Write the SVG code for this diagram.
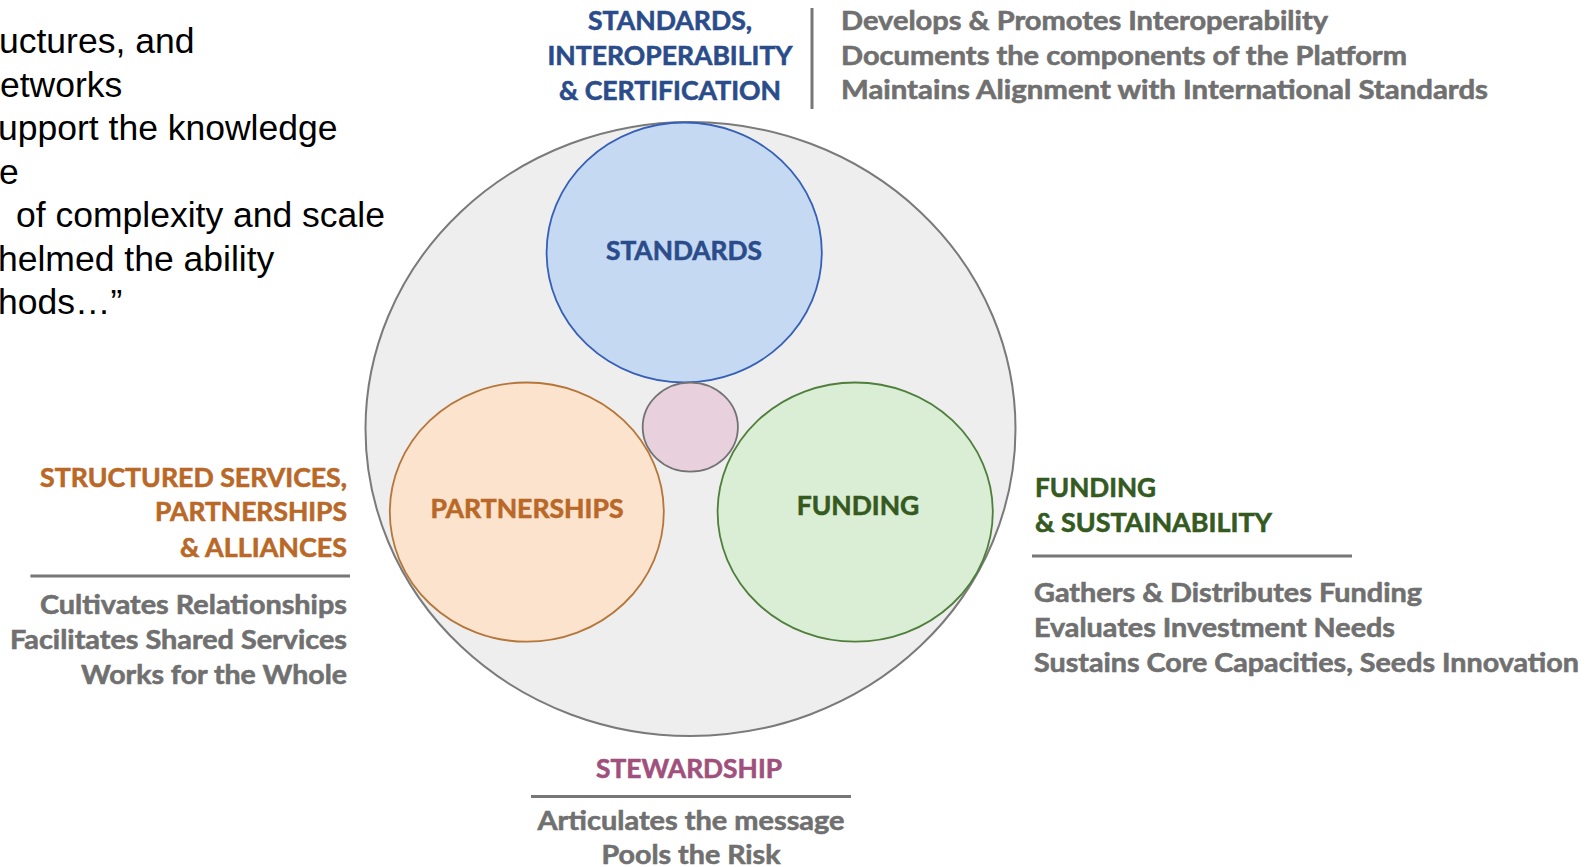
<svg xmlns="http://www.w3.org/2000/svg" width="1587" height="867" viewBox="0 0 1587 867">
<style>
.q{font-family:"Liberation Sans",Arial,sans-serif;font-size:35.5px;fill:#000}
.t{font-family:Lato,"Open Sans",sans-serif;font-weight:bold;font-size:27px;stroke-width:0.6px}
.blue{fill:#2B4C8A;stroke:#2B4C8A}
.org{fill:#B96827;stroke:#B96827}
.grn{fill:#345A1F;stroke:#345A1F}
.mag{fill:#A0507C;stroke:#A0507C}
.gry{fill:#707070;stroke:#707070}
.rule{stroke:#777;stroke-width:3;fill:none}
.mid{text-anchor:middle}
.end{text-anchor:end}
</style>
<rect width="1587" height="867" fill="#fff"/>
<g id="quote">
<text class="q" x="-1" y="53">uctures, and</text>
<text class="q" x="0" y="96.5">etworks</text>
<text class="q" x="-2" y="140">upport the knowledge</text>
<text class="q" x="-1" y="183.5">e</text>
<text class="q" x="16" y="227">of complexity and scale</text>
<text class="q" x="-2" y="270.5">helmed the ability</text>
<text class="q" x="-2" y="314">hods…”</text>
</g>
<g id="outer">
<ellipse cx="690.5" cy="429" rx="325" ry="307" fill="#EEEEEF" stroke="#7A7A7A" stroke-width="2"/>
</g>
<g id="standards">
<ellipse cx="684.2" cy="252.5" rx="137.6" ry="130" fill="#C6D9F3" stroke="#3560B5" stroke-width="1.8"/>
<text class="t blue mid" x="684" y="260" textLength="156" lengthAdjust="spacingAndGlyphs">STANDARDS</text>
</g>
<g id="partnerships">
<ellipse cx="526.8" cy="512.1" rx="137" ry="129.6" fill="#FBE3CD" stroke="#B67639" stroke-width="1.8"/>
<text class="t org mid" x="527" y="518" textLength="193" lengthAdjust="spacingAndGlyphs">PARTNERSHIPS</text>
</g>
<g id="funding">
<ellipse cx="855.2" cy="512.1" rx="137.6" ry="129.6" fill="#DAEDD5" stroke="#4F7F3A" stroke-width="1.8"/>
<text class="t grn mid" x="858" y="515" textLength="122.5" lengthAdjust="spacingAndGlyphs">FUNDING</text>
</g>
<g id="stewardship-core">
<ellipse cx="690.3" cy="427.1" rx="47.6" ry="44.5" fill="#E8D0DC" stroke="#737373" stroke-width="1.8"/>
</g>
<g id="connectors">
<line class="rule" x1="812" y1="8" x2="812" y2="109"/>
<line class="rule" x1="30.4" y1="576" x2="350" y2="576"/>
<line class="rule" x1="1032" y1="556" x2="1352" y2="556"/>
<line class="rule" x1="531" y1="796.5" x2="851" y2="796.5"/>
</g>
<g id="label-standards">
<text class="t blue mid" x="670" y="30.4" textLength="164" lengthAdjust="spacingAndGlyphs">STANDARDS,</text>
<text class="t blue mid" x="670" y="65" textLength="245" lengthAdjust="spacingAndGlyphs">INTEROPERABILITY</text>
<text class="t blue mid" x="670" y="100" textLength="222" lengthAdjust="spacingAndGlyphs">&amp; CERTIFICATION</text>
<text class="t gry" x="841" y="29.5" textLength="487" lengthAdjust="spacingAndGlyphs">Develops &amp; Promotes Interoperability</text>
<text class="t gry" x="841" y="64.8" textLength="566" lengthAdjust="spacingAndGlyphs">Documents the components of the Platform</text>
<text class="t gry" x="841" y="99" textLength="647" lengthAdjust="spacingAndGlyphs">Maintains Alignment with International Standards</text>
</g>
<g id="label-partnerships">
<text class="t org end" x="347" y="487" textLength="307" lengthAdjust="spacingAndGlyphs">STRUCTURED SERVICES,</text>
<text class="t org end" x="347" y="521" textLength="192" lengthAdjust="spacingAndGlyphs">PARTNERSHIPS</text>
<text class="t org end" x="347" y="556.5" textLength="167" lengthAdjust="spacingAndGlyphs">&amp; ALLIANCES</text>
<text class="t gry end" x="347" y="614" textLength="307" lengthAdjust="spacingAndGlyphs">Cultivates Relationships</text>
<text class="t gry end" x="347" y="649" textLength="337" lengthAdjust="spacingAndGlyphs">Facilitates Shared Services</text>
<text class="t gry end" x="347" y="684" textLength="266" lengthAdjust="spacingAndGlyphs">Works for the Whole</text>
</g>
<g id="label-funding">
<text class="t grn" x="1035" y="497" textLength="121" lengthAdjust="spacingAndGlyphs">FUNDING</text>
<text class="t grn" x="1035" y="532" textLength="237" lengthAdjust="spacingAndGlyphs">&amp; SUSTAINABILITY</text>
<text class="t gry" x="1034" y="602" textLength="388" lengthAdjust="spacingAndGlyphs">Gathers &amp; Distributes Funding</text>
<text class="t gry" x="1034" y="637" textLength="361" lengthAdjust="spacingAndGlyphs">Evaluates Investment Needs</text>
<text class="t gry" x="1034" y="672" textLength="545" lengthAdjust="spacingAndGlyphs">Sustains Core Capacities, Seeds Innovation</text>
</g>
<g id="label-stewardship">
<text class="t mag mid" x="689" y="778" textLength="186" lengthAdjust="spacingAndGlyphs">STEWARDSHIP</text>
<text class="t gry mid" x="691" y="830" textLength="307" lengthAdjust="spacingAndGlyphs">Articulates the message</text>
<text class="t gry mid" x="691" y="863.5" textLength="179" lengthAdjust="spacingAndGlyphs">Pools the Risk</text>
</g>
</svg>
